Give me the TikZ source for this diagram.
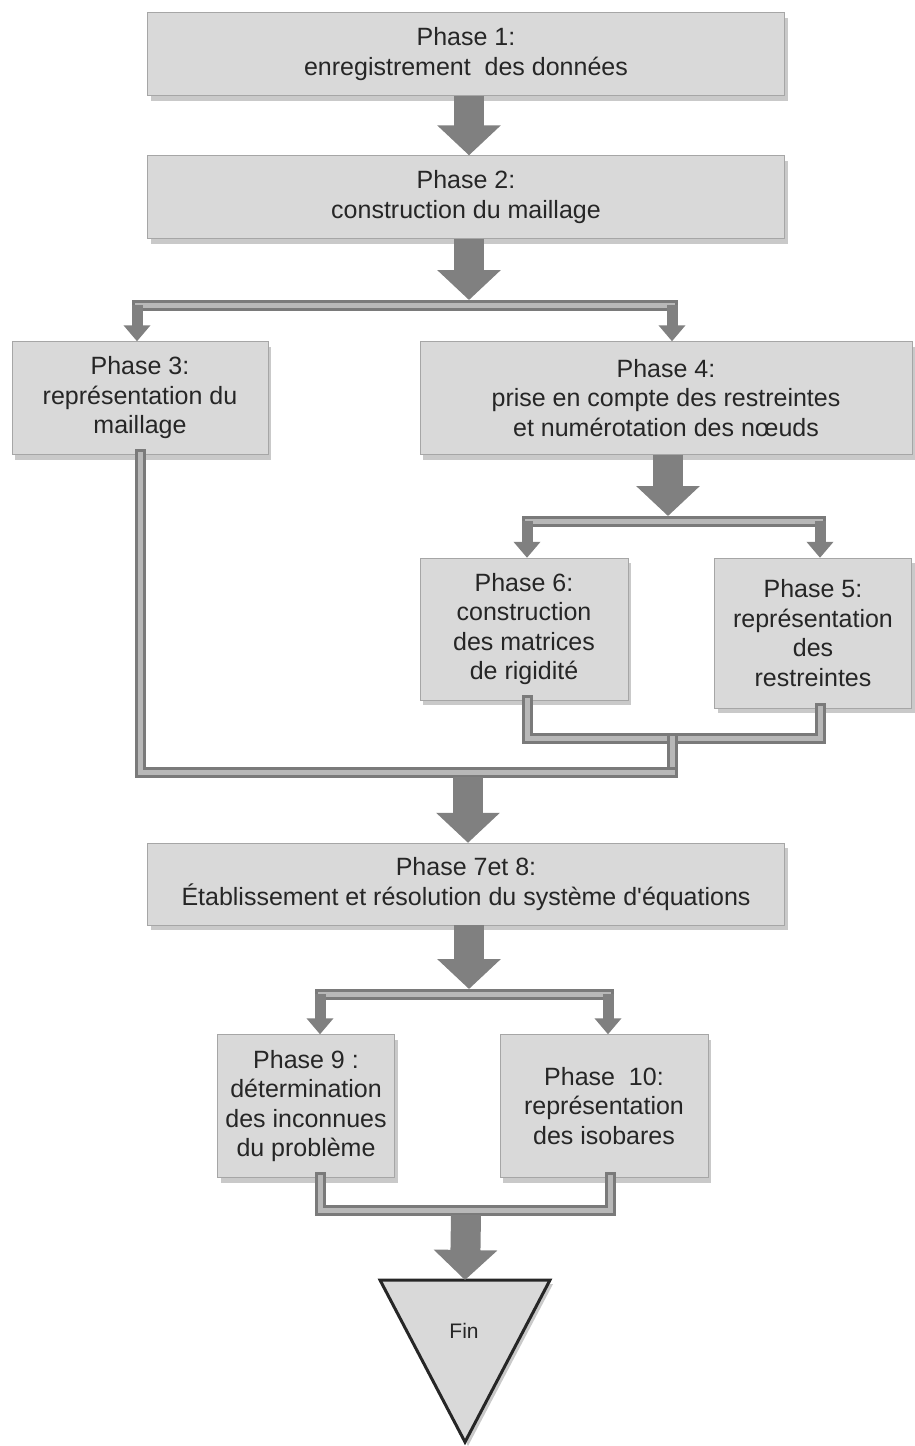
\documentclass[tikz,border=0pt]{standalone}
\usepackage{fontspec}
\setmainfont{Liberation Sans}[Ligatures=TeXOff]
\usetikzlibrary{arrows.meta,shadows}
\begin{document}
\begin{tikzpicture}[x=1pt,y=-1pt,
  box/.style={draw=black!35, fill=black!15, inner sep=0pt, align=center, text=black!85,
    font=\fontsize{25}{29.5}\selectfont,
    drop shadow={shadow xshift=3pt, shadow yshift=-5pt, opacity=0.3, fill=black!70}},
  bigarrow/.style={draw=black!50, line width=30pt, -{Triangle[width=62pt,length=30pt]}},
  smallarrow/.style={draw=black!50, line width=11pt, -{Triangle[width=26pt,length=16pt]}},
  tube/.style={draw=black!52, line width=11pt, line join=miter, line cap=rect,
    postaction={draw=black!28, line width=5pt, line join=miter, line cap=rect}}
]
\useasboundingbox (0,0) rectangle (914,1446);

% boxes
\node[box, minimum width=637pt, minimum height=83pt] (b1) at (466,54) {Phase 1:\\enregistrement\ \ des données};
\node[box, minimum width=637pt, minimum height=83pt] (b2) at (466,197) {Phase 2:\\construction du maillage};
\node[box, minimum width=256pt, minimum height=113pt] (b3) at (140,398) {Phase 3:\\représentation du\\maillage};
\node[box, minimum width=492pt, minimum height=113pt] (b4) at (666,398) {Phase 4:\\prise en compte des restreintes\\et numérotation des nœuds};
\node[box, minimum width=208pt, minimum height=142pt] (b6) at (524,629) {Phase 6:\\construction\\des matrices\\de rigidité};
\node[box, minimum width=197pt, minimum height=150pt] (b5) at (813,633) {Phase 5:\\représentation\\des\\restreintes};
\node[box, minimum width=637pt, minimum height=82pt] (b7) at (466,884) {Phase 7et 8:\\Établissement et résolution du système d'équations};
\node[box, minimum width=177pt, minimum height=143pt] (b9) at (306,1106) {Phase 9 :\\détermination\\des inconnues\\du problème};
\node[box, minimum width=208pt, minimum height=143pt] (b10) at (604,1106) {Phase\ \ 10:\\représentation\\des isobares};

% Fin triangle
\coordinate (fintop) at (465,1280);
\coordinate (finl) at (380,1280);
\coordinate (finr) at (550,1280);
\coordinate (finb) at (465,1442);
\draw[draw=black!85, line width=3pt, fill=black!15, line join=miter,
  drop shadow={shadow xshift=3pt, shadow yshift=-4pt, opacity=0.3, fill=black!70}]
  (finl) -- (finr) -- (finb) -- cycle;
\node[font=\fontsize{21}{25}\selectfont, text=black!85] (fin) at (464,1331) {Fin};

% junction coordinates
\coordinate (j1) at (466,305);
\coordinate (l1) at (137,305);
\coordinate (r1) at (672,305);
\coordinate (j2) at (668,521);
\coordinate (l2) at (527,521);
\coordinate (r2) at (820,521);
\coordinate (m1l) at (527,738);
\coordinate (m1r) at (820,738);
\coordinate (m1j) at (672,738);
\coordinate (m2l) at (140,772);
\coordinate (m2r) at (672,772);
\coordinate (m2j) at (468,772);
\coordinate (j3) at (466,994);
\coordinate (l3) at (320,994);
\coordinate (r3) at (608,994);
\coordinate (m3l) at (320,1210);
\coordinate (m3r) at (610,1210);
\coordinate (m3j) at (466,1210);

% tubes
\draw[tube] (l1) -- (r1);
\draw[tube] (l2) -- (r2);
\draw[tube] (m1l |- b6.south) -- (m1l) -- (m1r) -- (m1r |- b5.south);
\draw[tube] (m1j) -- (m2r);
\draw[tube] (m2l |- b3.south) -- (m2l) -- (m2r);
\draw[tube] (l3) -- (r3);
\draw[tube] (m3l |- b9.south) -- (m3l) -- (m3r) -- (m3r |- b10.south);

% small arrows
\draw[smallarrow] (l1) -- (l1 |- b3.north);
\draw[smallarrow] (r1) -- (r1 |- b4.north);
\draw[smallarrow] (l2) -- (l2 |- b6.north);
\draw[smallarrow] (r2) -- (r2 |- b5.north);
\draw[smallarrow] (l3) -- (l3 |- b9.north);
\draw[smallarrow] (r3) -- (r3 |- b10.north);

% big arrows
\draw[bigarrow] ([xshift=3pt]b1.south) -- ([xshift=3pt]b2.north);
\draw[bigarrow] ([xshift=3pt]b2.south) -- ([xshift=3pt,yshift=5pt]j1);
\draw[bigarrow] (b4.south -| j2) -- ([yshift=5pt]j2);
\draw[bigarrow] ([yshift=-5pt]m2j) -- (m2j |- b7.north);
\draw[bigarrow] ([xshift=3pt]b7.south) -- ([xshift=3pt,yshift=5pt]j3);
\draw[bigarrow] ([yshift=-5pt]m3j) -- (fintop);
\end{tikzpicture}
\end{document}
